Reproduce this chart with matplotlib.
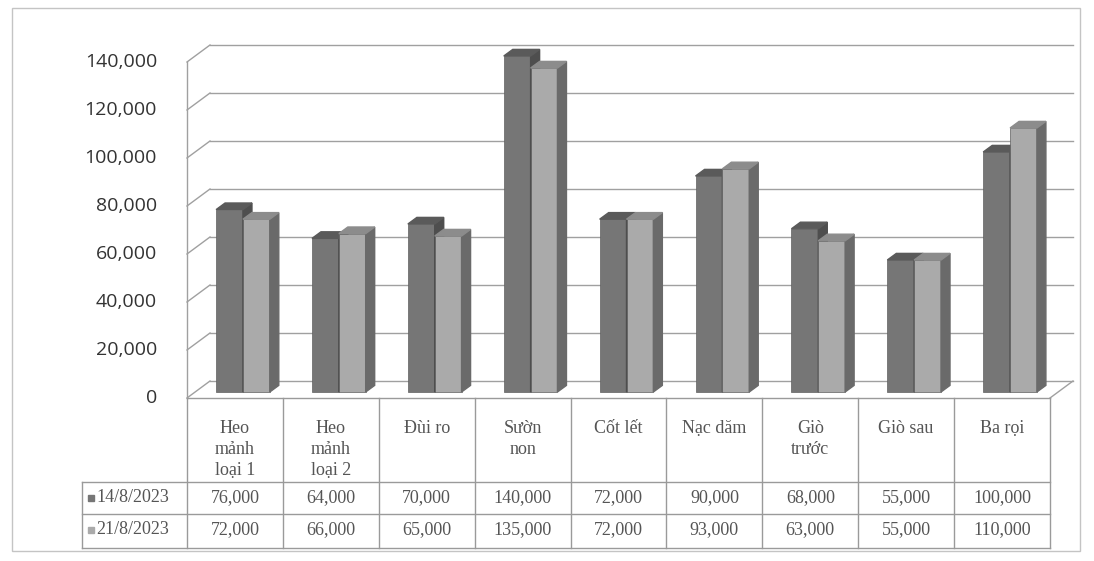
# Pork cut prices, two survey dates: 3-D style clustered columns with a data table underneath

import matplotlib.pyplot as plt
from matplotlib.patches import Rectangle
import numpy as np

categories = ["Heo\nmảnh\nloại 1", "Heo\nmảnh\nloại 2", "Đùi ro", "Sườn\nnon", "Cốt lết",
              "Nạc dăm", "Giò\ntrước", "Giò sau", "Ba rọi"]
series_names = ["14/8/2023", "21/8/2023"]
price_14_8 = [76000, 64000, 70000, 140000, 72000, 90000, 68000, 55000, 100000]
price_21_8 = [72000, 66000, 65000, 135000, 72000, 93000, 63000, 55000, 110000]
y_ticks = [0, 20000, 40000, 60000, 80000, 100000, 120000, 140000]

W, H = 1094, 561
fig = plt.figure(figsize=(W / 100, H / 100), dpi=100)
ax = fig.add_axes([0, 0, 1, 1])
ax.axis('off')

# plane the columns stand on: category -0.5..8.5 spans x0..x1 px, value 0 sits at base px
x0_px, x1_px = 195, 1058
base_px = 392
px_per_value = 2.4 / 1000
DX = len(categories) / (x1_px - x0_px)   # data units per pixel (x)
DY = 1 / px_per_value                     # data units per pixel (y)


def X(px):
    return (px - x0_px) * DX - 0.5


def Y(py):
    return (base_px - py) * DY


ax.set_xlim(X(0), X(W))
ax.set_ylim(Y(H), Y(0))

# depth offsets of the front edge and of the back wall
fx, fy = -8 * DX, -6 * DY
bx, by = 15 * DX, 11 * DY
n = len(categories)
grid_c = '#a0a0a0'

for t in y_ticks:
    ax.plot([-0.5 + bx, n - 0.5 + bx], [t + by, t + by], color=grid_c, lw=1, zorder=1)
    ax.plot([-0.5 + fx, -0.5 + bx], [t + fy, t + by], color=grid_c, lw=1, zorder=1)
    ax.text(-0.5 + fx - 30 * DX, t + fy, f"{t:,}", ha='right', va='center',
            fontsize=14, family='Open Sans', color='#333333')
ax.plot([-0.5 + fx] * 2, [fy, y_ticks[-1] + fy], color=grid_c, lw=1, zorder=1)
ax.plot([n - 0.5 + fx, n - 0.5 + bx], [fy, by], color=grid_c, lw=1, zorder=1)

# columns with side and top faces
xs = np.arange(n)
w = 0.28
ddx, ddy = 9 * DX, 6.6 * DY
styles = [('#767676', '#4e4e4e', '#5a5a5a'), ('#aaaaaa', '#6a6a6a', '#8c8c8c')]
for k, (vals, (front, side, top)) in enumerate(zip([price_14_8, price_21_8], styles)):
    lefts = xs - w + k * w
    z = 3 + k
    ax.bar(lefts, vals, width=w, align='edge', color=front, edgecolor='#606060',
           linewidth=0.5, zorder=z)
    for l, v in zip(lefts, vals):
        r = l + w
        ax.fill([r, r + ddx, r + ddx, r], [0, ddy, v + ddy, v], color=side, zorder=z)
        ax.fill([l, r, r + ddx, l + ddx], [v, v, v + ddy, v + ddy], color=top, zorder=z)

# data table
line_c = '#9a9a9a'
tab_left, tab_right = -0.5 + fx, n - 0.5 + fx
leg_left = X(82)
rows_py = [398, 482, 514, 548]
ax.plot([tab_left, tab_right], [Y(rows_py[0])] * 2, color=line_c, lw=1)
for py in rows_py[1:]:
    ax.plot([leg_left, tab_right], [Y(py)] * 2, color=line_c, lw=1)
for k in range(n + 1):
    ax.plot([k - 0.5 + fx] * 2, [Y(rows_py[0]), Y(rows_py[-1])], color=line_c, lw=1)
ax.plot([leg_left] * 2, [Y(rows_py[1]), Y(rows_py[-1])], color=line_c, lw=1)

txt = dict(family='Liberation Serif', fontsize=13, color='#555555')
for i, cat in enumerate(categories):
    ax.text(i + fx, Y(420), cat, ha='center', va='top', linespacing=1.3, **txt)
for row_py, vals in zip([498, 530], [price_14_8, price_21_8]):
    for i, v in enumerate(vals):
        ax.text(i + fx, Y(row_py), f"{v:,}", ha='center', va='center', **txt)

for row_py, name, (front, _, _) in zip([498, 530], series_names, styles):
    ax.add_patch(Rectangle((X(88), Y(row_py + 3)), 6 * DX, 6 * DY, color=front))
    ax.text(X(96), Y(row_py), name, ha='left', va='center', **txt)

# outer chart border
ax.add_patch(Rectangle((X(12), Y(551)), X(1080) - X(12), Y(8) - Y(551),
                       fill=False, edgecolor='#c4c4c4', lw=1))

fig.savefig('out.png', dpi=100, facecolor='white')
